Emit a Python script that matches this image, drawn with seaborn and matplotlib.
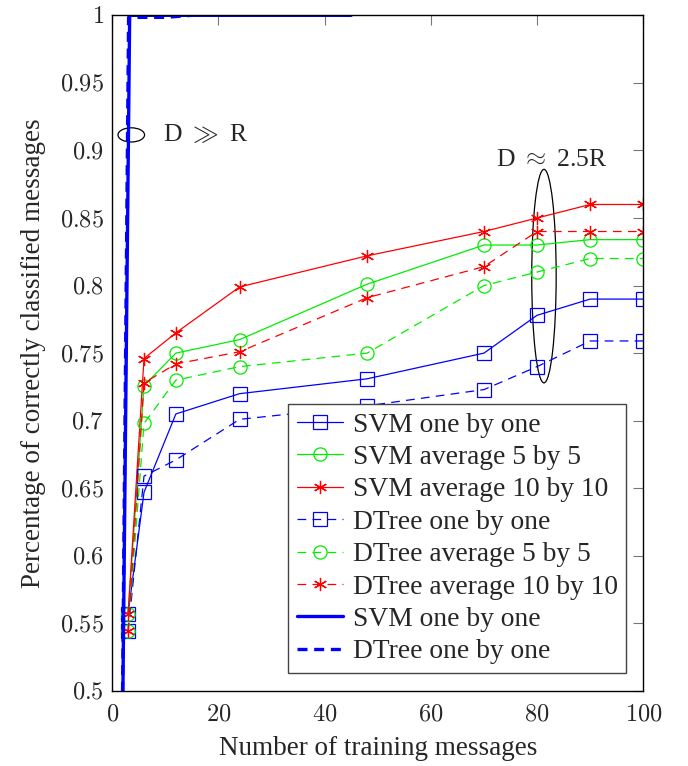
import numpy as np
import pandas as pd
import seaborn as sns
import matplotlib
matplotlib.use('Agg')
import matplotlib.pyplot as plt
from matplotlib.patches import Ellipse
from matplotlib.ticker import FixedLocator, FuncFormatter

# data
x_msgs = [3, 6, 12, 24, 48, 70, 80, 90, 100]
svm_one = [0.557, 0.647, 0.705, 0.720, 0.731, 0.750, 0.778, 0.790, 0.790]
svm_avg5 = [0.557, 0.726, 0.750, 0.760, 0.801, 0.830, 0.830, 0.834, 0.834]
svm_avg10 = [0.557, 0.746, 0.765, 0.799, 0.822, 0.840, 0.850, 0.860, 0.860]
dtree_one = [0.544, 0.659, 0.671, 0.701, 0.711, 0.723, 0.740, 0.759, 0.759]
dtree_avg5 = [0.544, 0.698, 0.730, 0.740, 0.750, 0.800, 0.810, 0.820, 0.820]
dtree_avg10 = [0.544, 0.728, 0.742, 0.751, 0.791, 0.814, 0.840, 0.840, 0.840]

# thick "D >> R" curves
svm_big_x = [1.9, 3.3, 45]
svm_big_y = [0.45, 1.0, 1.0]
dtree_big_x = [1.85, 3.1, 10, 15, 45]
dtree_big_y = [0.45, 0.9985, 0.9985, 1.0, 1.0]

labels = ['SVM one by one', 'SVM average 5 by 5', 'SVM average 10 by 10',
          'DTree one by one', 'DTree average 5 by 5', 'DTree average 10 by 10',
          'SVM one by one', 'DTree one by one']

sns.set_style('white')
plt.rcParams['font.family'] = ['Liberation Serif', 'DejaVu Serif']
plt.rcParams['mathtext.fontset'] = 'cm'

fig = plt.figure(figsize=(6.88, 7.66), dpi=100)
ax = fig.add_axes([0.163, 0.098, 0.772, 0.882])

star = (6, 2, 0)
dash = (0, (7, 5))
series = [
    (svm_one, 'blue', 's', '-'),
    (svm_avg5, '#00ee00', 'o', '-'),
    (svm_avg10, 'red', star, '-'),
    (dtree_one, 'blue', 's', dash),
    (dtree_avg5, '#00ee00', 'o', dash),
    (dtree_avg10, 'red', star, dash),
]
for (vals, col, mk, ls), lab in zip(series, labels[:6]):
    sns.lineplot(x=x_msgs, y=vals, ax=ax, color=col, linestyle=ls, linewidth=0.9,
                 marker=mk, markersize=9.5, markerfacecolor='none',
                 markeredgecolor=col, markeredgewidth=0.9, label=lab)

sns.lineplot(x=svm_big_x, y=svm_big_y, ax=ax, color='blue', linewidth=2.4,
             label=labels[6])
sns.lineplot(x=dtree_big_x, y=dtree_big_y, ax=ax, color='blue', linewidth=2.4,
             linestyle=(0, (3, 2)), label=labels[7])

ax.set_xlim(0, 100)
ax.set_ylim(0.5, 1.0)
ax.xaxis.set_major_locator(FixedLocator([0, 20, 40, 60, 80, 100]))
ax.yaxis.set_major_locator(FixedLocator(np.round(np.arange(0.5, 1.001, 0.05), 2)))
ax.xaxis.set_major_formatter(FuncFormatter(lambda v, p: f'${v:g}$'))
ax.yaxis.set_major_formatter(FuncFormatter(lambda v, p: f'${v:g}$'))
ax.tick_params(direction='in', length=7, width=0.8, color='#777777',
               top=True, right=True, labelsize=17.5, pad=6)
ax.tick_params(axis='x', pad=10)
for s in ax.spines.values():
    s.set_color('black')
    s.set_linewidth(1.0)

ax.set_xlabel('Number of training messages', fontsize=19.5, labelpad=7)
ax.set_ylabel('Percentage of correctly classified messages', fontsize=19.5, labelpad=10)

# annotations
ax.add_patch(Ellipse((3.6, 0.9115), 5.0, 0.0105, fill=False, edgecolor='black', linewidth=0.9))
ax.text(9.5, 0.9115, r'D $\gg$ R', fontsize=18.5, va='center', ha='left')
ax.add_patch(Ellipse((81.3, 0.807), 4.6, 0.158, fill=False, edgecolor='black', linewidth=0.9))
ax.text(82.7, 0.893, r'D $\approx$ 2.5R', fontsize=18.5, va='center', ha='center')

leg = ax.legend(loc='lower right', bbox_to_anchor=(0.968, 0.027), fontsize=19.8,
                frameon=True, fancybox=False, edgecolor='#444444', framealpha=1,
                handlelength=1.7, handletextpad=0.35, labelspacing=0.26,
                borderpad=0.3, borderaxespad=0)
leg.get_frame().set_linewidth(1.0)

fig.savefig('out.png', dpi=100)
